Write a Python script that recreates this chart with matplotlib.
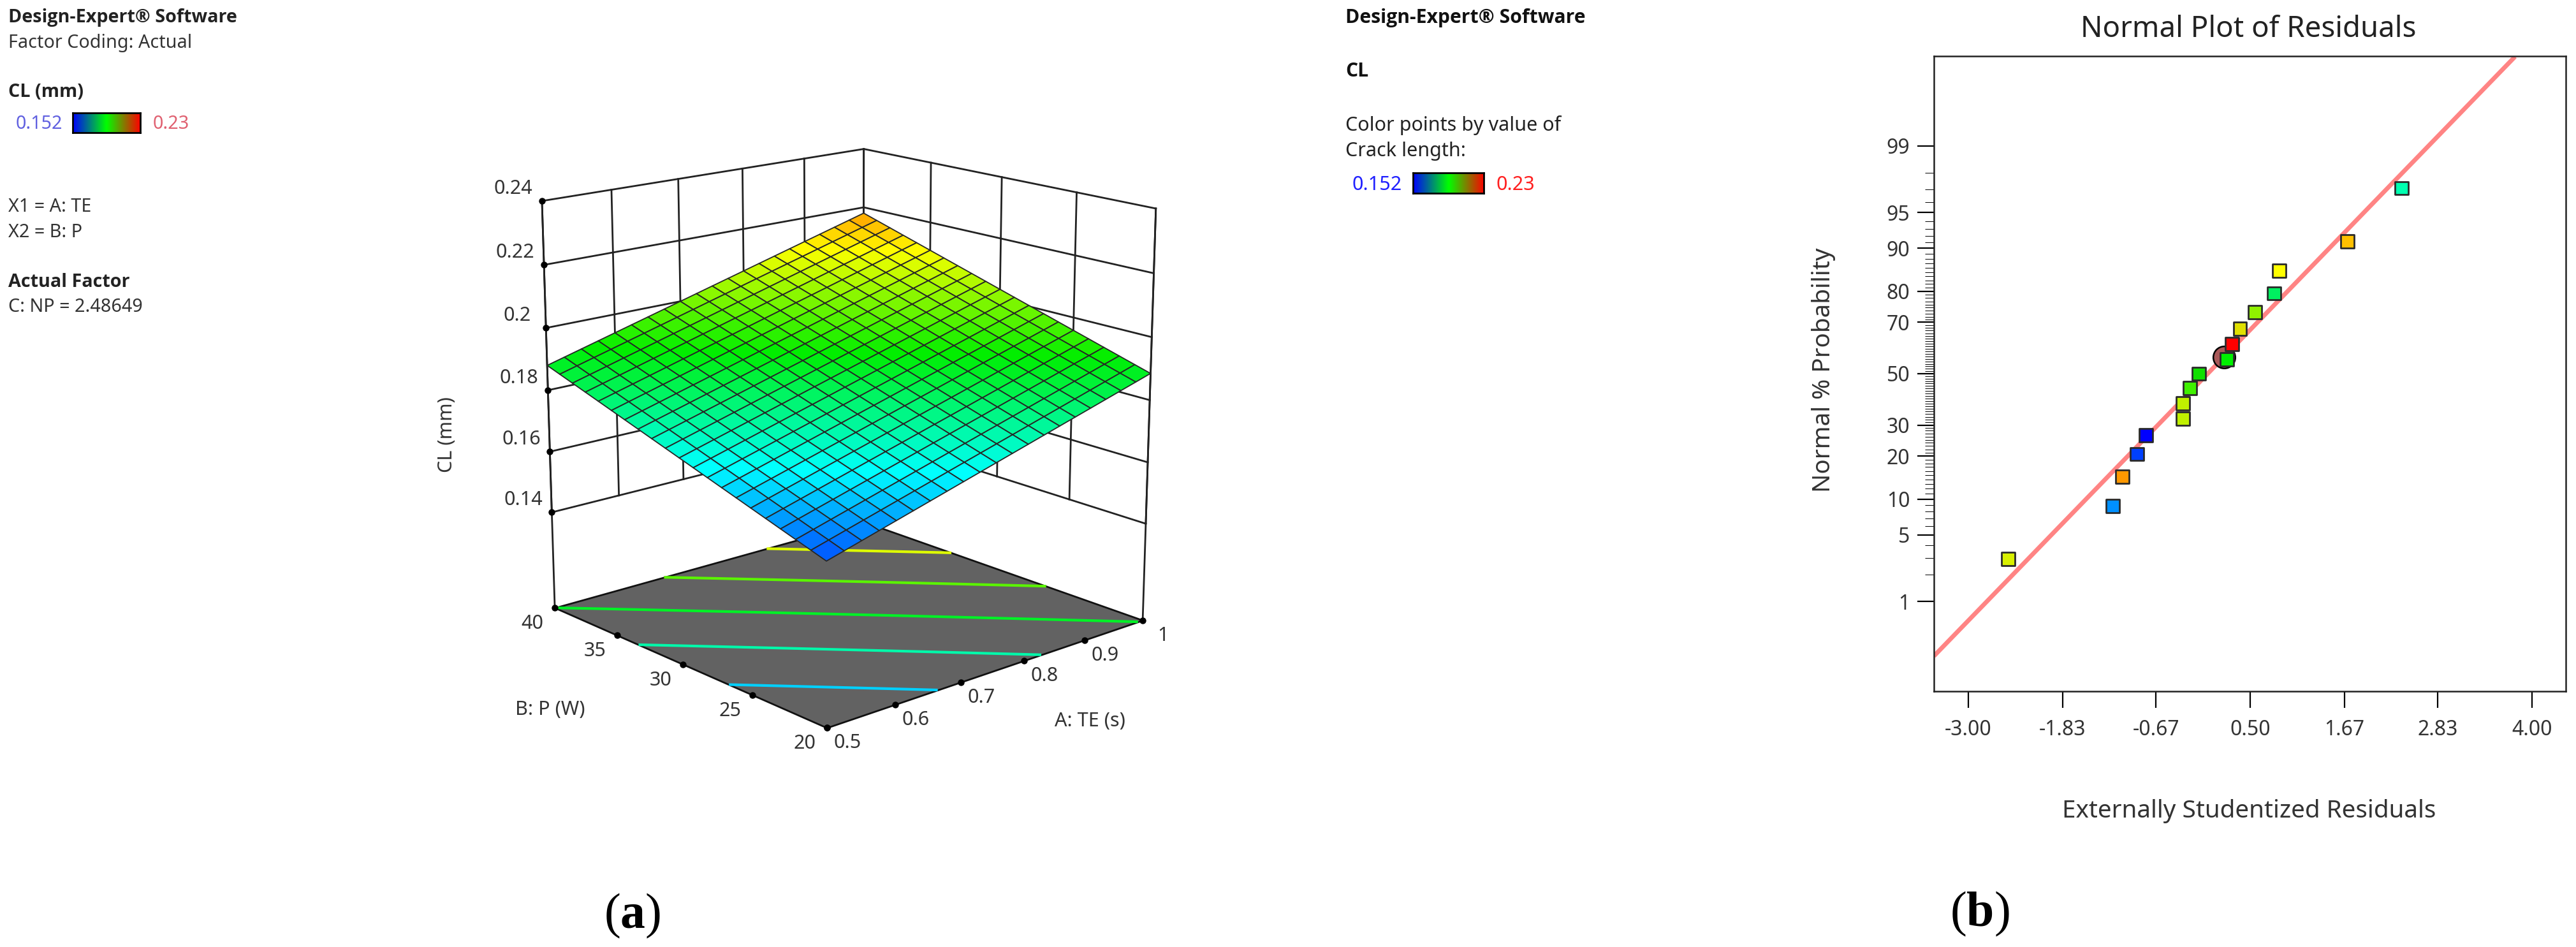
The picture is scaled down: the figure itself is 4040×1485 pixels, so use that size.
from statistics import NormalDist

import matplotlib
matplotlib.use("Agg")
import matplotlib.pyplot as plt
import numpy as np
from matplotlib.colors import LinearSegmentedColormap
from mpl_toolkits.mplot3d import proj3d

W, H = 4040, 1485

plt.rcParams["font.family"] = ["Noto Sans", "DejaVu Sans"]
plt.rcParams["mathtext.fontset"] = "custom"
plt.rcParams["mathtext.bf"] = "Liberation Serif:bold"
plt.rcParams["mathtext.rm"] = "Liberation Serif"

# --- Data -------------------------------------------------------------------

TE_TICKS = [0.5, 0.6, 0.7, 0.8, 0.9, 1.0]
P_TICKS = [20, 25, 30, 35, 40]
CL_TICKS = [0.14, 0.16, 0.18, 0.2, 0.22, 0.24]
CL_TICK_LABELS = ["0.14", "0.16", "0.18", "0.2", "0.22", "0.24"]
CL_FLOOR = 0.108

# response plane at the four corners (TE, P)
CL_TE05_P20 = 0.158
CL_TE05_P40 = 0.188
CL_TE10_P20 = 0.1885
CL_TE10_P40 = 0.218
CONTOUR_LEVELS = [0.168, 0.178, 0.188, 0.198, 0.208]
CL_MIN, CL_MAX = 0.152, 0.23
MESH_CELLS = 20

RESIDUALS = [-2.505, -1.204, -1.089, -0.904, -0.795, -0.334, -0.334, -0.248, -0.139,
             0.212, 0.276, 0.374, 0.558, 0.80, 0.863, 1.709, 2.383]
PROBABILITY = [2.94, 8.82, 14.7, 20.6, 26.5, 32.4, 38.2, 44.1, 50.0,
               55.9, 61.8, 67.6, 73.5, 79.4, 85.3, 91.2, 97.1]
POINT_COLORS = ["#d8f000", "#0090ff", "#ff9800", "#0040ff", "#0000ff", "#c0f000",
                "#c0f000", "#40f000", "#10e000", "#00f000", "#ff0000", "#e0e000",
                "#90f000", "#00f060", "#ffff00", "#ffc000", "#00ffb0"]
LINE_X = [-3.426, 3.79]
LINE_P = [0.196, 99.94]
HILITE_X, HILITE_P = 0.18, 56.8

RES_TICKS = [-3.0, -1.83, -0.67, 0.5, 1.67, 2.83, 4.0]
RES_LABELS = ["-3.00", "-1.83", "-0.67", "0.50", "1.67", "2.83", "4.00"]
PROB_TICKS = [1, 5, 10, 20, 30, 50, 70, 80, 90, 95, 99]

RAINBOW = LinearSegmentedColormap.from_list(
    "rainbow5", ["#0000ff", "#00ffff", "#00ee00", "#ffff00", "#ff0000"])
BAR_CMAP = LinearSegmentedColormap.from_list("bar3", ["#0000ff", "#00ff00", "#ff0000"])

TEXT = "#333333"
BOLD_FONT = ["Open Sans", "DejaVu Sans"]


# --- Helpers ----------------------------------------------------------------

def px_axes(fig, left, top, width, height, **kw):
    return fig.add_axes([left / W, 1 - (top + height) / H, width / W, height / H], **kw)


def label(fig, x, y, s, size=20.7, color=TEXT, ha="left", **kw):
    fig.text(x / W, 1 - y / H, s, fontsize=size, color=color, ha=ha, va="center", **kw)


def bold_label(fig, x, y, s, size=20.7, color="#222222"):
    label(fig, x, y, s, size=size, color=color, fontweight="bold", family=BOLD_FONT)


def color_bar(fig, left, top, width, height):
    ax = px_axes(fig, left, top, width, height)
    ax.imshow(np.linspace(0, 1, 256)[None, :], aspect="auto", cmap=BAR_CMAP)
    ax.set_xticks([])
    ax.set_yticks([])
    for s in ax.spines.values():
        s.set_linewidth(2)
        s.set_color("black")


def probit(p):
    p = np.clip(np.asarray(p, dtype=float) / 100, 1e-6, 1 - 1e-6)
    return np.vectorize(NormalDist().inv_cdf, otypes=[float])(p)


def normal_cdf(z):
    return np.vectorize(NormalDist().cdf, otypes=[float])(np.asarray(z, dtype=float)) * 100


# --- Panel (a): response surface --------------------------------------------

def plot_surface_panel(fig):
    ax = px_axes(fig, 752, 103, 1122, 1122, projection="3d", computed_zorder=False)
    ax.set_proj_type("persp", focal_length=0.7)
    ax.view_init(elev=16, azim=-131.5)
    ax.set_box_aspect((1, 1, 1.0))
    ax.set_axis_off()

    te0, te1 = TE_TICKS[0], TE_TICKS[-1]
    p0, p1 = P_TICKS[0], P_TICKS[-1]
    z_top = CL_TICKS[-1]
    line = dict(color="#222222", lw=2.0, zorder=1)

    # back walls, grid stops at the lowest CL tick
    for te in TE_TICKS:
        ax.plot([te, te], [p1, p1], [CL_TICKS[0], z_top], **line)
    for p in P_TICKS:
        ax.plot([te1, te1], [p, p], [CL_TICKS[0], z_top], **line)
    for z in CL_TICKS:
        ax.plot([te0, te1, te1], [p1, p1, p0], [z, z, z], **line)
    ax.plot([te0, te0], [p1, p1], [CL_FLOOR, z_top], **line)
    ax.plot([te1, te1], [p0, p0], [CL_FLOOR, z_top], **line)

    # floor
    fx, fy = np.meshgrid([te0, te1], [p0, p1])
    ax.plot_surface(fx, fy, np.full_like(fx, CL_FLOOR), color="#626262", shade=False,
                    edgecolor="#111111", linewidth=2.0, zorder=2)

    # the fitted plane through the corners, cut into the mesh the software draws
    x, y = np.meshgrid(np.linspace(te0, te1, MESH_CELLS + 1), np.linspace(p0, p1, MESH_CELLS + 1))
    u, v = (x - te0) / (te1 - te0), (y - p0) / (p1 - p0)
    z = (CL_TE05_P20 * (1 - u) * (1 - v) + CL_TE10_P20 * u * (1 - v)
         + CL_TE05_P40 * (1 - u) * v + CL_TE10_P40 * u * v)

    ax.contour(x, y, z, levels=CONTOUR_LEVELS, zdir="z", offset=CL_FLOOR, cmap=RAINBOW,
               vmin=CL_MIN, vmax=CL_MAX, linewidths=3.0, zorder=3)
    ax.plot_surface(x, y, z, rstride=1, cstride=1, cmap=RAINBOW, vmin=CL_MIN, vmax=CL_MAX,
                    edgecolor="#262626", linewidth=1.3, shade=False, zorder=4)

    # tick dots
    dot = dict(ls="none", marker="o", ms=6.5, color="black", zorder=5)
    ax.plot(TE_TICKS, [p0] * len(TE_TICKS), [CL_FLOOR] * len(TE_TICKS), **dot)
    ax.plot([te0] * len(P_TICKS), P_TICKS, [CL_FLOOR] * len(P_TICKS), **dot)
    ax.plot([te0] * len(CL_TICKS), [p1] * len(CL_TICKS), CL_TICKS, **dot)

    ax.set_xlim(te0, te1)
    ax.set_ylim(p0, p1)
    ax.set_zlim(CL_FLOOR, z_top)

    M = ax.get_proj()

    def tick_text(xs, ys, zs, text, offset):
        px, py, _ = proj3d.proj_transform(xs, ys, zs, M)
        ax.annotate(text, (px, py), xytext=offset, textcoords="offset pixels",
                    ha="center", va="center", fontsize=22, color=TEXT)

    for val, text in zip(CL_TICKS, CL_TICK_LABELS):
        tick_text(te0, p1, val, text, (-45, 19))
    for val in P_TICKS:
        tick_text(te0, val, CL_FLOOR, str(val), (-35, -25))
    for val in TE_TICKS:
        tick_text(val, p0, CL_FLOOR, f"{val:g}", (32, -24))

    label(fig, 701, 682, "CL (mm)", size=22, rotation=90, ha="center")
    label(fig, 863, 1113, "B: P (W)", size=22, ha="center")
    label(fig, 1709, 1131, "A: TE (s)", size=22, ha="center")


# --- Panel (b): normal plot -------------------------------------------------

def plot_normal_panel(fig):
    ax = px_axes(fig, 3033, 88, 991, 996)
    ax.set_yscale("function", functions=(probit, normal_cdf))

    ax.plot(LINE_X, LINE_P, color="#ff8484", lw=5.0, solid_capstyle="butt", zorder=2)
    ax.scatter([HILITE_X], [HILITE_P], s=620, color="#a85858", edgecolor="black",
               linewidth=1.8, zorder=3)
    ax.scatter(RESIDUALS, PROBABILITY, marker="s", s=225, c=POINT_COLORS,
               edgecolor="#2a2a2a", linewidth=2.0, zorder=4)

    ax.set_xlim(-3.426, 4.42)
    ax.set_ylim(normal_cdf(-3.244), normal_cdf(3.244))

    ax.set_xticks(RES_TICKS, RES_LABELS)
    ax.set_yticks(PROB_TICKS, [str(p) for p in PROB_TICKS])
    minor = [p for p in range(1, 100) if p not in PROB_TICKS]
    ax.set_yticks(minor, minor=True)
    ax.tick_params(axis="x", which="major", length=19, width=1.6, pad=13, labelsize=23,
                   labelcolor=TEXT)
    ax.tick_params(axis="x", which="minor", length=0)
    ax.tick_params(axis="y", which="major", length=19, width=1.6, pad=8, labelsize=23,
                   labelcolor=TEXT)
    ax.tick_params(axis="y", which="minor", length=10, width=0.7)
    for s in ax.spines.values():
        s.set_linewidth(1.8)
        s.set_color("#222222")

    label(fig, 3526, 46, "Normal Plot of Residuals", size=32.8, ha="center", color="#222222")
    label(fig, 3527, 1272, "Externally Studentized Residuals", size=27.8, ha="center")
    label(fig, 2860, 580, "Normal % Probability", size=27.8, ha="center", rotation=90)


# --- Legend blocks ----------------------------------------------------------

def plot_legends(fig):
    bold_label(fig, 13, 27, "Design-Expert® Software")
    label(fig, 13, 67, "Factor Coding: Actual")
    bold_label(fig, 13, 145, "CL (mm)")
    label(fig, 25, 195, "0.152", color="#6060e0")
    color_bar(fig, 114, 177, 106, 31)
    label(fig, 240, 195, "0.23", color="#e06070")
    label(fig, 13, 325, "X1 = A: TE")
    label(fig, 13, 365, "X2 = B: P")
    bold_label(fig, 13, 443, "Actual Factor")
    label(fig, 13, 482, "C: NP = 2.48649")

    bold_label(fig, 2110, 28, "Design-Expert® Software", size=21.7, color="#111111")
    bold_label(fig, 2110, 112, "CL", size=21.7, color="#111111")
    label(fig, 2110, 197, "Color points by value of", size=22, color="#222222")
    label(fig, 2110, 237, "Crack length:", size=22, color="#222222")
    label(fig, 2121, 290, "0.152", size=22, color="#2020ff")
    color_bar(fig, 2216, 271, 111, 32)
    label(fig, 2347, 290, "0.23", size=22, color="#ff2020")


def main():
    fig = plt.figure(figsize=(W / 100, H / 100), dpi=100, facecolor="white")
    plot_surface_panel(fig)
    plot_normal_panel(fig)
    plot_legends(fig)
    label(fig, 992, 1436, r"($\mathbf{a}$)", size=56, ha="center", color="black",
          family="Liberation Serif")
    label(fig, 3105, 1433, r"($\mathbf{b}$)", size=56, ha="center", color="black",
          family="Liberation Serif")
    fig.savefig("out.png", dpi=100)


if __name__ == "__main__":
    main()
